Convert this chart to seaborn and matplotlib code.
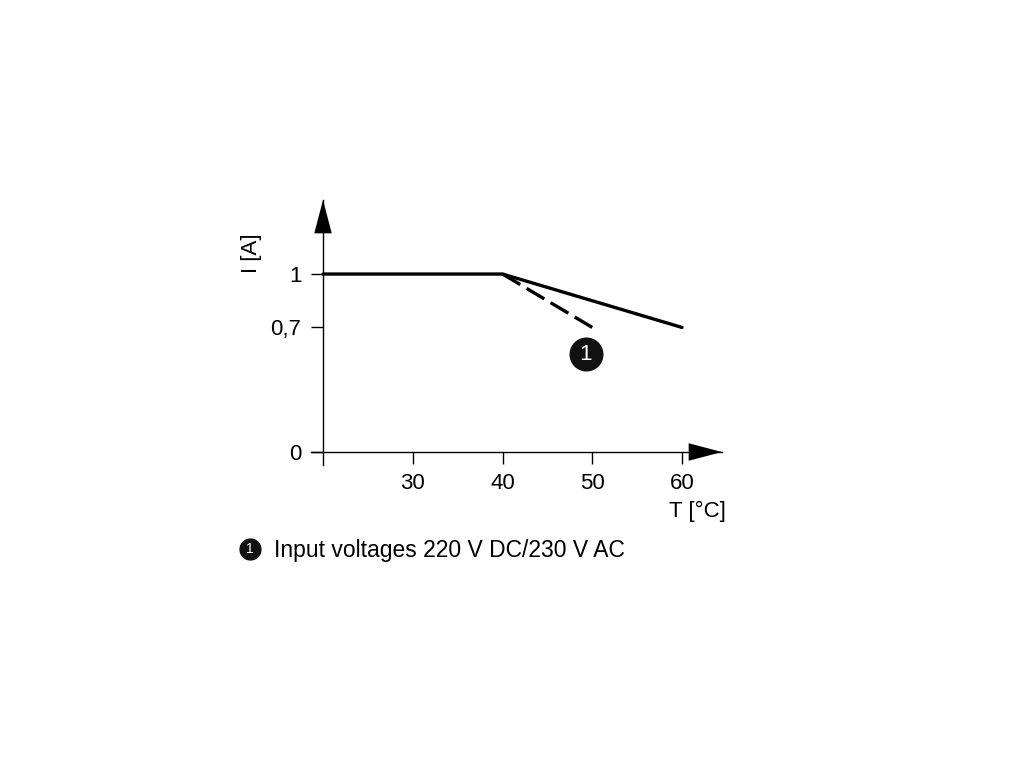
import numpy as np
import pandas as pd
import matplotlib
matplotlib.use('Agg')
import matplotlib.pyplot as plt
import seaborn as sns

# derating curve data
temp_std = [20, 40, 60]
curr_std = [1.0, 1.0, 0.7]
temp_hv = [40, 50]          # input 220 V DC / 230 V AC
curr_hv = [1.0, 0.7]
x_ticks = [30, 40, 50, 60]
x_ticklabels = ['30', '40', '50', '60']
y_ticks = [0, 0.7, 1]
y_ticklabels = ['0', '0,7', '1']
note_pos = (49.3, 0.55)
note_text = 'Input voltages 220 V DC/230 V AC'

sns.set_style('white')
plt.rcParams['font.family'] = ['Liberation Sans', 'DejaVu Sans']
plt.rcParams['text.color'] = 'black'

fig = plt.figure(figsize=(10.2, 7.65), dpi=100)
ax = fig.add_axes([311 / 1020, 1 - 465 / 765, 411 / 1020, 265 / 765])

df_std = pd.DataFrame({'T': temp_std, 'I': curr_std})
df_hv = pd.DataFrame({'T': temp_hv, 'I': curr_hv})
sns.lineplot(data=df_std, x='T', y='I', ax=ax, color='black', lw=2.4, solid_joinstyle='miter')
sns.lineplot(data=df_hv, x='T', y='I', ax=ax, color='black', lw=2.4, dashes=False,
             linestyle=(0, (6.2, 2.2)))

ax.set_xlim(18.66, 64.46)
ax.set_ylim(-0.073, 1.416)

for s in ['top', 'right']:
    ax.spines[s].set_visible(False)
ax.spines['left'].set_position(('data', 20))
ax.spines['bottom'].set_position(('data', 0))
for s in ['left', 'bottom']:
    ax.spines[s].set_color('black')
    ax.spines[s].set_linewidth(1.0)

ax.set_xticks(x_ticks)
ax.set_xticklabels(x_ticklabels)
ax.set_yticks(y_ticks)
ax.set_yticklabels(y_ticklabels)
ax.tick_params(axis='both', direction='out', length=8.5, width=1.0, color='black',
               labelcolor='black', labelsize=16, bottom=True, left=True)
ax.tick_params(axis='x', pad=6.5)
ax.tick_params(axis='y', pad=7)
ax.set_xlabel('')
ax.set_ylabel('')

# axis arrow heads
arrow = dict(arrowstyle='-|>,head_length=1.6,head_width=0.42', mutation_scale=15,
             color='black', lw=0, shrinkA=0, shrinkB=0)
ax.annotate('', xy=(64.46, 0), xytext=(62.0, 0), arrowprops=arrow, annotation_clip=False)
ax.annotate('', xy=(20, 1.416), xytext=(20, 1.25), arrowprops=arrow, annotation_clip=False)

ax.text(252 / 1020, 1 - 253 / 765, 'I [A]', transform=fig.transFigure, rotation=90,
        ha='center', va='center', fontsize=16)
ax.text(697 / 1020, 1 - 511 / 765, 'T [°C]', transform=fig.transFigure,
        ha='center', va='center', fontsize=16)

# callout marker
ax.plot(*note_pos, 'o', ms=26, mfc='#111111', mec='white', mew=1.5, clip_on=False)
ax.text(*note_pos, '1', color='white', ha='center', va='center', fontsize=16)

# footnote
ax.plot(250 / 1020, 1 - 549 / 765, 'o', ms=15, mfc='#111111', mec='#111111',
        transform=fig.transFigure, clip_on=False)
ax.text(250 / 1020, 1 - 549 / 765, '1', transform=fig.transFigure, color='white',
        ha='center', va='center', fontsize=10)
ax.text(274 / 1020, 1 - 550 / 765, note_text, transform=fig.transFigure,
        ha='left', va='center', fontsize=16.5)

plt.savefig('out.png', dpi=100)
